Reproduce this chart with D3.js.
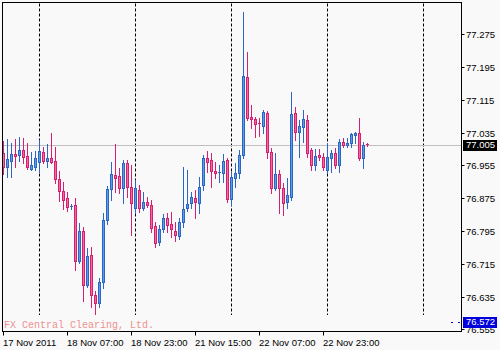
<!DOCTYPE html>
<html>
<head>
<meta charset="utf-8">
<script src="https://cdn.jsdelivr.net/npm/d3@7"></script>
<style>
  body { margin: 0; background: #f9f9f9; }
  svg { display: block; }
  text { font-family: "Liberation Sans", Arial, sans-serif; }
</style>
</head>
<body>
<div id="chart"></div>
<script>
// USDJPY-ish H1 bars, 17-23 Nov 2011
var open = [76.985,76.951,76.966,76.983,76.981,76.993,76.978,76.946,76.951,76.964,
  76.988,76.966,76.973,76.966,76.922,76.893,76.876,76.854,76.859,76.722,
  76.795,76.663,76.737,76.639,76.620,76.671,76.822,76.898,76.932,76.929,
  76.900,76.961,76.903,76.851,76.895,76.851,76.866,76.859,76.807,76.769,
  76.800,76.827,76.812,76.795,76.783,76.817,76.851,76.864,76.876,76.864,
  76.907,76.973,76.968,76.942,76.937,76.937,76.968,76.873,76.924,76.937,
  76.981,77.171,77.073,77.068,77.059,77.051,77.083,76.988,76.900,76.934,
  76.900,76.866,76.878,77.083,77.037,77.049,77.066,76.993,76.956,76.981,
  76.976,76.944,76.973,76.985,76.956,77.012,77.005,77.010,77.029,77.034,
  76.973,77.007]

var high = [77.015,77.020,77.010,77.020,77.025,77.022,77.010,76.988,76.990,77.017,
  77.000,77.007,77.034,77.000,76.942,76.915,76.890,76.861,76.876,76.815,
  76.805,76.754,76.756,76.649,76.680,76.839,76.905,76.964,77.007,76.949,
  76.968,76.968,76.956,76.920,76.907,76.890,76.878,76.871,76.817,76.810,
  76.837,76.839,76.842,76.817,76.827,76.951,76.944,76.890,76.895,76.927,
  76.981,76.990,76.985,76.964,76.956,76.983,76.973,76.939,76.961,76.993,
  77.330,77.232,77.103,77.073,77.071,77.090,77.088,76.998,76.985,76.944,
  76.912,76.924,77.134,77.098,77.066,77.090,77.078,76.998,76.995,76.995,
  76.985,77.010,76.993,76.998,77.020,77.022,77.022,77.034,77.037,77.071,
  77.012,77.010]

var low = [76.934,76.927,76.927,76.951,76.966,76.961,76.946,76.944,76.944,76.939,
  76.961,76.951,76.961,76.912,76.868,76.849,76.844,76.849,76.700,76.717,
  76.625,76.659,76.610,76.593,76.610,76.656,76.812,76.871,76.890,76.888,
  76.864,76.878,76.786,76.839,76.842,76.846,76.854,76.793,76.756,76.761,
  76.793,76.793,76.781,76.771,76.776,76.805,76.844,76.851,76.827,76.839,
  76.895,76.939,76.903,76.924,76.915,76.915,76.866,76.859,76.903,76.924,
  76.973,77.066,77.047,77.025,77.027,77.034,76.973,76.888,76.895,76.839,
  76.834,76.851,76.871,77.017,76.976,77.012,76.976,76.944,76.944,76.968,
  76.944,76.937,76.939,76.949,76.939,77.000,77.000,77.000,77.010,76.968,
  76.949,77.003]

var close = [76.951,76.971,76.983,76.978,76.993,76.976,76.951,76.956,76.973,76.990,
  76.966,76.973,76.964,76.922,76.893,76.871,76.854,76.856,76.722,76.795,
  76.663,76.734,76.639,76.620,76.671,76.822,76.898,76.934,76.924,76.900,
  76.961,76.903,76.864,76.900,76.851,76.866,76.859,76.803,76.766,76.800,
  76.827,76.810,76.800,76.786,76.817,76.849,76.861,76.878,76.866,76.903,
  76.973,76.964,76.942,76.937,76.939,76.966,76.873,76.927,76.937,76.981,
  77.173,77.071,77.068,77.056,77.056,77.086,76.988,76.900,76.934,76.900,
  76.864,76.883,77.081,77.037,77.051,77.068,76.985,76.956,76.978,76.976,
  76.951,76.976,76.985,76.956,77.012,77.005,77.010,77.032,77.034,76.973,
  77.005,77.005]

var priceTicks = [77.275, 77.195, 77.115, 77.035, 76.955, 76.875, 76.795, 76.715, 76.635, 76.555]
var timeTickBars = [0, 16, 32, 48, 64, 80]
var timeTickLabels = ['17 Nov 2011', '18 Nov 07:00', '18 Nov 23:00', '21 Nov 15:00', '22 Nov 07:00', '22 Nov 23:00']
var daySeparatorBars = [9, 33, 57, 81, 105]
var lastPrice = 77.005
var markerPrice = 76.572
var watermark = 'FX Central Clearing, Ltd.'

var W = 500, H = 350
var plot = {left: 2.5, top: 2.5, right: 461.5, bottom: 331.5}

var svg = d3.select('#chart').append('svg').attr('width', W).attr('height', H)
svg.append('rect').attr('width', W).attr('height', H).attr('fill', '#f9f9f9')

// bar index -> pixel column, 4 px per bar
var x = d3.scaleLinear().domain([0, 114.5]).range([3, 461])
var y = d3.scaleLinear().domain([76.555, 77.275]).range([329.3, 34.3])
var px = v => Math.round(v) + 0.5

var bars = d3.range(open.length).map(i => ({i: i, o: open[i], h: high[i], l: low[i], c: close[i]}))

// day separators
svg.append('g').selectAll('line').data(daySeparatorBars).join('line')
  .attr('x1', d => px(x(d))).attr('x2', d => px(x(d)))
  .attr('y1', plot.top + 1).attr('y2', 315)
  .attr('stroke', '#000').attr('stroke-width', 1).attr('stroke-dasharray', '3,2')

// last price line
svg.append('line')
  .attr('x1', plot.left).attr('x2', plot.right)
  .attr('y1', px(y(lastPrice))).attr('y2', px(y(lastPrice)))
  .attr('stroke', '#c0c0c0')

// watermark
svg.append('text').text(watermark)
  .attr('x', 4).attr('y', 327.5)
  .style('font-family', '"Liberation Mono", "DejaVu Sans Mono", monospace')
  .style('font-size', '10px').attr('fill', '#ee9090')

// candles
var blueStroke = '#2b66c4', blueFill = '#5d9be2'
var pinkStroke = '#d81e6e', pinkFill = '#ee6a9e'
var candle = svg.append('g').selectAll('g').data(bars).join('g')

candle.append('line')
  .attr('x1', d => px(x(d.i))).attr('x2', d => px(x(d.i)))
  .attr('y1', d => Math.round(y(d.h))).attr('y2', d => Math.round(y(d.l)) + 1)
  .attr('stroke', d => d.c >= d.o ? blueStroke : pinkStroke)

candle.each(function(d){
  var g = d3.select(this)
  var up = d.c >= d.o
  var top = Math.round(y(Math.max(d.o, d.c)))
  var bot = Math.round(y(Math.min(d.o, d.c)))
  var cx = Math.round(x(d.i))
  if (bot - top < 2) {
    g.append('line')
      .attr('x1', cx - 1).attr('x2', cx + 2)
      .attr('y1', top + 0.5).attr('y2', top + 0.5)
      .attr('stroke', up ? blueStroke : pinkStroke)
  } else {
    g.append('rect')
      .attr('x', cx - 0.5).attr('width', 2)
      .attr('y', top + 0.5).attr('height', bot - top)
      .attr('fill', up ? blueFill : pinkFill)
      .attr('stroke', up ? blueStroke : pinkStroke)
  }
})

// frame
svg.append('rect')
  .attr('x', plot.left).attr('y', plot.top)
  .attr('width', plot.right - plot.left).attr('height', plot.bottom - plot.top)
  .attr('fill', 'none').attr('stroke', '#000')

// price axis
var pAxis = svg.append('g').selectAll('g').data(priceTicks).join('g')
  .attr('transform', d => `translate(0,${px(y(d))})`)
pAxis.append('line').attr('x1', plot.right).attr('x2', plot.right + 3).attr('stroke', '#000')
pAxis.append('text').text(d => d.toFixed(3))
  .attr('x', 466).attr('dy', '0.35em')
  .style('font-size', '9.5px').attr('fill', '#000')

// time axis
var tAxis = svg.append('g').selectAll('g').data(timeTickBars).join('g')
  .attr('transform', d => `translate(${px(x(d))},0)`)
tAxis.append('line').attr('y1', plot.bottom).attr('y2', plot.bottom + 4).attr('stroke', '#000')
tAxis.append('text').text((d, i) => timeTickLabels[i])
  .attr('x', -0.5).attr('y', 345.5)
  .style('font-size', '9.5px').attr('fill', '#000')

// marker label (blue) and last price label (black)
function priceLabel(v, bg){
  var yy = Math.round(y(v))
  svg.append('rect').attr('x', 463).attr('y', yy - 5).attr('width', 34).attr('height', 11).attr('fill', bg)
  svg.append('text').text(v.toFixed(3))
    .attr('x', 466).attr('y', yy).attr('dy', '0.35em')
    .style('font-size', '9.5px').attr('fill', '#fff')
}
svg.append('line')
  .attr('x1', 451).attr('x2', 461).attr('y1', px(y(markerPrice))).attr('y2', px(y(markerPrice)))
  .attr('stroke', '#0000cc').attr('stroke-dasharray', '2,5')
priceLabel(markerPrice, '#0000dd')
priceLabel(lastPrice, '#000')
</script>
</body>
</html>
